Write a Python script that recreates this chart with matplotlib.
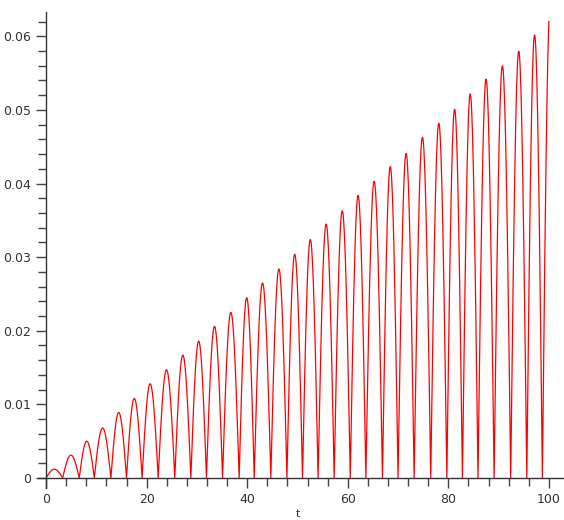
import numpy as np
import matplotlib.pyplot as plt

# zero crossings of the curve, lobe i lies between zeros[i] and zeros[i+1]
zeros = [0.0, 3.3, 6.6, 9.6, 12.9, 16.0, 19.1, 22.3, 25.6, 28.8, 31.9,
         35.1, 38.4, 41.4, 44.7, 47.9, 51.0, 54.1, 57.3, 60.5, 63.6,
         66.9, 70.0, 73.2, 76.5, 79.7, 82.8, 85.9, 89.1, 92.4, 95.6, 98.7]

# peak height of each lobe
peaks = [0.0012, 0.0031, 0.0050, 0.0068, 0.0089, 0.0108, 0.0128, 0.0147,
         0.0167, 0.0186, 0.0206, 0.0225, 0.0245, 0.0265, 0.0284, 0.0304,
         0.0324, 0.0345, 0.0363, 0.0384, 0.0403, 0.0423, 0.0441, 0.0463,
         0.0482, 0.0501, 0.0522, 0.0542, 0.0560, 0.0580, 0.0602]

# last (unfinished) lobe: starts at zeros[-1], ends at t_end with value end_val
t_end = 100.0
end_val = 0.0620

x_ticks = [0, 20, 40, 60, 80, 100]
y_ticks = [0, 0.01, 0.02, 0.03, 0.04, 0.05, 0.06]
y_labels = ["0", "0.01", "0.02", "0.03", "0.04", "0.05", "0.06"]


def build_curve():
    """每個 lobe 用半個正弦拱形連起來"""
    ts, vs = [], []
    for i, h in enumerate(peaks):
        a, b = zeros[i], zeros[i + 1]
        s = np.linspace(0, 1, 40)
        ts.extend(a + (b - a) * s)
        vs.extend(h * np.sin(np.pi * s))
    # 最後半個 lobe，到 t_end 為止
    period = zeros[-1] - zeros[-2]
    s = np.linspace(0, (t_end - zeros[-1]) / period, 20)
    ts.extend(zeros[-1] + period * s)
    vs.extend(end_val * np.sin(np.pi * s) / np.sin(np.pi * s[-1]))
    return np.array(ts), np.array(vs)


def plot_chart():
    fig = plt.figure(figsize=(5.64, 5.20), dpi=100)
    ax = fig.add_axes([38 / 564, 32 / 520, 526 / 564, 476 / 520])

    t, v = build_curve()
    ax.plot(t, v, color="red", linewidth=0.9)

    ax.set_xlim(-1.6, 103.0)
    ax.set_ylim(-0.00136, 0.0633)

    # Maple 風格的座標軸：穿過原點
    for side in ["top", "right"]:
        ax.spines[side].set_visible(False)
    ax.spines["left"].set_position(("data", 0))
    ax.spines["bottom"].set_position(("data", 0))
    for side in ["left", "bottom"]:
        ax.spines[side].set_color("#333333")
        ax.spines[side].set_linewidth(1.0)

    ax.set_xticks(x_ticks)
    ax.set_xticks(np.arange(0, 101, 4), minor=True)
    ax.set_yticks(y_ticks)
    ax.set_yticklabels(y_labels)
    ax.set_yticks(np.arange(0, 0.0631, 0.002), minor=True)

    ax.tick_params(which="both", direction="out", color="#444444", width=1.0)
    ax.tick_params(which="major", length=7, labelsize=9, labelcolor="#333333", pad=4)
    ax.tick_params(which="minor", length=6)

    ax.text(50, -0.00495, "t", ha="center", va="center", fontsize=8, color="#333333")

    plt.savefig("out.png", dpi=100)


if __name__ == "__main__":
    plot_chart()
